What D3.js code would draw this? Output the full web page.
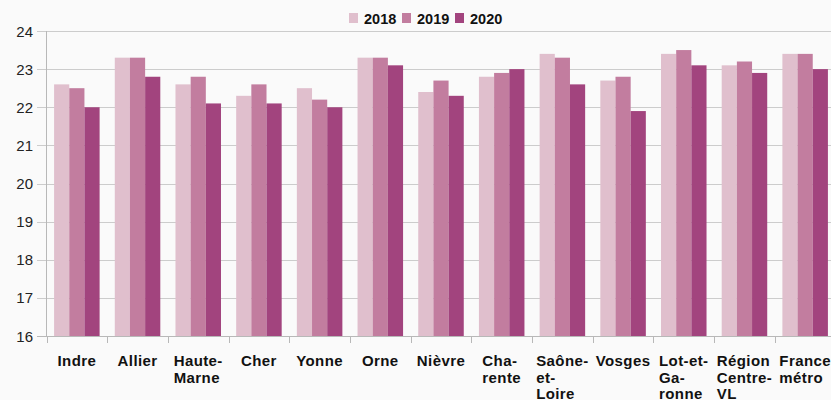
<!DOCTYPE html>
<html><head><meta charset="utf-8">
<script src="https://cdn.jsdelivr.net/npm/d3@7/dist/d3.min.js"></script>
<style>
html,body{margin:0;padding:0;background:#fafafa;}
svg{display:block;}
</style></head>
<body>
<script>
const categories = [["Indre"],["Allier"],["Haute-","Marne"],["Cher"],["Yonne"],["Orne"],["Nièvre"],["Cha-","rente"],["Saône-","et-","Loire"],["Vosges"],["Lot-et-","Ga-","ronne"],["Région","Centre-","VL"],["France","métro"]];
const years = ["2018","2019","2020"];
const v2018 = [22.6,23.3,22.6,22.3,22.5,23.3,22.4,22.8,23.4,22.7,23.4,23.1,23.4];
const v2019 = [22.5,23.3,22.8,22.6,22.2,23.3,22.7,22.9,23.3,22.8,23.5,23.2,23.4];
const v2020 = [22.0,22.8,22.1,22.1,22.0,23.1,22.3,23.0,22.6,21.9,23.1,22.9,23.0];
const yTicks = [16,17,18,19,20,21,22,23,24];
const colors = ["#e0bfcd","#c27d9f","#a2447e"];

const W = 831, H = 400;
const svg = d3.select("body").append("svg").attr("width",W).attr("height",H);
svg.append("rect").attr("width",W).attr("height",H).attr("fill","#fafafa");

const series = [v2018,v2019,v2020];
const keys = categories.map((c,i)=>i);
const x0 = d3.scaleBand().domain(keys).range([46.5, 835.5]).padding(0);
const bw = x0.bandwidth();
const x1 = d3.scaleBand().domain(years).range([bw*0.125, bw*0.875]).padding(0);
const y = d3.scaleLinear().domain([16,24]).range([336,31]);

// gridlines
svg.append("g").selectAll("line").data(yTicks).join("line")
  .attr("x1",37).attr("x2",W).attr("y1",d=>Math.round(y(d))+0.5).attr("y2",d=>Math.round(y(d))+0.5)
  .attr("stroke",d=>d===16?"#b8b8b8":"#cccccc").attr("stroke-width",1);

// y labels
svg.append("g").selectAll("text").data(yTicks).join("text")
  .attr("x",33).attr("y",d=>y(d)+5.5).attr("text-anchor","end")
  .attr("font-family","'Liberation Sans', Arial, sans-serif").attr("font-size",15)
  .attr("fill","#222").text(d=>d);

// bars
const g = svg.append("g");
keys.forEach(i=>{
  years.forEach((yr,j)=>{
    const val = series[j][i];
    g.append("rect")
      .attr("x", x0(i)+x1(yr)).attr("width", x1.bandwidth())
      .attr("y", y(val)).attr("height", y(16)-y(val))
      .attr("fill", colors[j]);
  });
});

// axes lines
svg.append("line").attr("x1",46.5).attr("x2",46.5).attr("y1",31).attr("y2",336).attr("stroke","#b8b8b8");
const tickXs = keys.map(i=>x0(i)).concat([x0(keys[keys.length-1])+bw]);
svg.append("g").selectAll("line").data(tickXs).join("line")
  .attr("x1",d=>Math.round(d)+0.5).attr("x2",d=>Math.round(d)+0.5)
  .attr("y1",336).attr("y2",343).attr("stroke","#b8b8b8");

// category labels
const lab = svg.append("g").attr("font-family","'Liberation Sans', Arial, sans-serif")
  .attr("font-weight","bold").attr("font-size",15).attr("letter-spacing","0.4px").attr("fill","#111");
keys.forEach(i=>{
  const t = lab.append("text").attr("y",366);
  categories[i].forEach((ln,k)=>{
    t.append("tspan").attr("x",0).attr("dy",k===0?0:16.5).text(ln);
  });
  let maxw = 0;
  t.selectAll("tspan").each(function(){ maxw = Math.max(maxw, this.getComputedTextLength()); });
  const cx = x0(i)+bw/2;
  t.attr("transform",`translate(${cx-maxw/2},0)`);
});

// legend
const leg = svg.append("g");
const legX = [349, 402, 455];
years.forEach((yr,j)=>{
  leg.append("rect").attr("x",legX[j]).attr("y",13).attr("width",9).attr("height",10).attr("fill",colors[j]);
  leg.append("text").attr("x",legX[j]+15).attr("y",23.5)
    .attr("font-family","'Liberation Sans', Arial, sans-serif").attr("font-weight","bold")
    .attr("font-size",14.5).attr("fill","#111").text(yr);
});
</script>
</body></html>
